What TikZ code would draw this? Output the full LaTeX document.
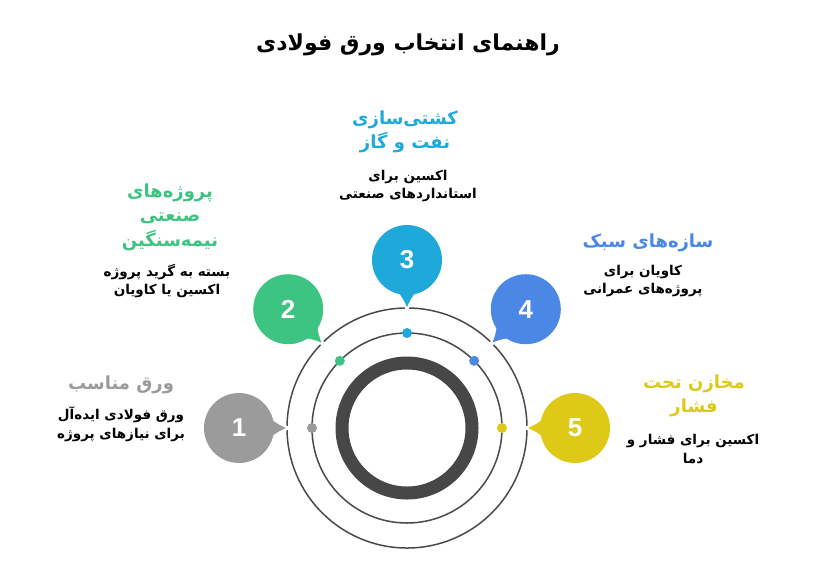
\documentclass[tikz,border=0pt]{standalone}
\usepackage{fontspec}
\usetikzlibrary{calc}
\TeXXeTstate=1
\newfontfamily\arabicfont[Script=Arabic]{DejaVu Sans}
\newfontfamily\numfont{Liberation Sans}
\newcommand\rline[1]{\beginR #1\endR}
\definecolor{gray1}{HTML}{9B9B9B}
\definecolor{green2}{HTML}{3EC482}
\definecolor{blue3}{HTML}{1FA9DA}
\definecolor{blue4}{HTML}{4B88E6}
\definecolor{yellow5}{HTML}{DEC918}
\definecolor{ringcol}{HTML}{474747}
\definecolor{linecol}{HTML}{4A4A4A}
\tikzset {
    bubble/.style = {circle, minimum size = 70pt, inner sep = 0pt, text = white,
        font = \numfont\bfseries\fontsize{26}{26}\selectfont},
    head text/.style = {align = center, font = \arabicfont\bfseries\fontsize{18}{24.5}\selectfont},
    desc text/.style = {align = center, text = black, font = \arabicfont\bfseries\fontsize{13.5}{18.5}\selectfont},
    main title/.style = {font = \arabicfont\bfseries\fontsize{22}{26}\selectfont},
    thin ring/.style = {draw = linecol, line width = 1.5pt},
}

\begin{document}
\begin{tikzpicture}[x = 1pt, y = -1pt]
    \useasboundingbox [fill = white] (0, 0) rectangle (816, 566);
    \coordinate (c) at (407, 428);
    % rings
    \draw [ringcol, line width = 13pt] (c) circle (65);
    \draw [thin ring] (c) circle (95);
    \draw [thin ring] (c) circle (120);
    % bubbles
    \foreach \i/\ang/\col in {1/180/gray1, 2/-135/green2, 3/-90/blue3, 4/-45/blue4, 5/0/yellow5} {
        \coordinate (t\i) at ($(c) + (\ang:121)$);
        \fill [white] (t\i) circle (2.5);
        \node (b\i) [bubble, fill = \col] at ($(c) + (\ang:168)$) {\i};
        \fill [\col] ($(b\i) + (\ang+180+30:30)$) to [bend left = 12] (t\i)
            to [bend left = 12] ($(b\i) + (\ang+180-30:30)$) -- cycle;
        \fill [\col] ($(c) + (\ang:95)$) circle (5);
    }
    % texts
    \node (title) [main title] at (408, 45) {\rline{راهنمای انتخاب ورق فولادی}};
    \node (h1) [head text, text = gray1] at (121, 385) {\rline{ورق مناسب}};
    \node (d1) [desc text] at (121, 424) {\rline{ورق فولادی ایده‌آل}\\\rline{برای نیازهای پروژه}};
    \node (h2) [head text, text = green2] at (170, 217) {\rline{پروژه‌های}\\\rline{صنعتی}\\\rline{نیمه‌سنگین}};
    \node (d2) [desc text] at (167, 281) {\rline{بسته به گرید پروژه}\\\rline{اکسین یا کاویان}};
    \node (h3) [head text, text = blue3] at (405, 132) {\rline{کشتی‌سازی}\\\rline{نفت و گاز}};
    \node (d3) [desc text] at (408, 186) {\rline{اکسین برای}\\\rline{استانداردهای صنعتی}};
    \node (h4) [head text, text = blue4] at (648, 243) {\rline{سازه‌های سبک}};
    \node (d4) [desc text] at (643, 281) {\rline{کاویان برای}\\\rline{پروژه‌های عمرانی}};
    \node (h5) [head text, text = yellow5] at (694, 396) {\rline{مخازن تحت}\\\rline{فشار}};
    \node (d5) [desc text] at (693, 449) {\rline{اکسین برای فشار و}\\\rline{دما}};
\end{tikzpicture}
\end{document}
